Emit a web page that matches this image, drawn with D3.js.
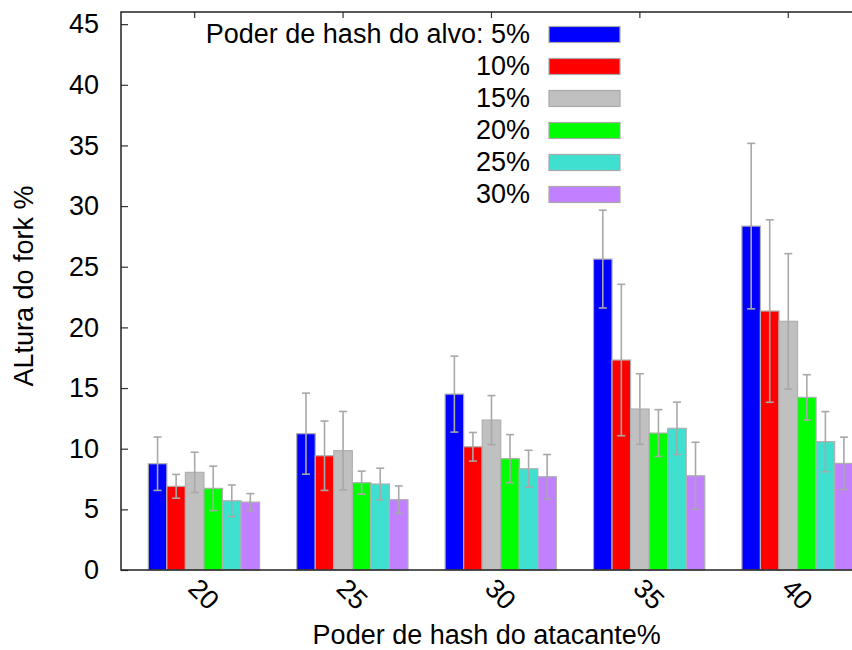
<!DOCTYPE html>
<meta charset="utf-8">
<script src="https://d3js.org/d3.v7.min.js"></script>
<style>
  body { margin: 0; background: white; }
  svg text { font-family: "Liberation Sans", Arial, sans-serif; font-size: 27px; fill: black; }
</style>
<div id="chart"></div>
<script>

// attacker hash power (groups) and target hash power (series)
var groups = ["20", "25", "30", "35", "40"];
var series = ["5%", "10%", "15%", "20%", "25%", "30%"];
var legendLabels = ["Poder de hash do alvo: 5%", "10%", "15%", "20%", "25%", "30%"];
var colors = ["#0000ff", "#ff0000", "#c0c0c0", "#00ff00", "#40e0d0", "#c080ff"];

// fork height % per series, one value per group
var s5  = [8.76, 11.24, 14.5, 25.63, 28.35];
var s10 = [6.9, 9.42, 10.16, 17.31, 21.35];
var s15 = [8.05, 9.84, 12.36, 13.27, 20.5];
var s20 = [6.73, 7.2, 9.18, 11.29, 14.23];
var s25 = [5.71, 7.09, 8.35, 11.68, 10.58];
var s30 = [5.6, 5.8, 7.69, 7.77, 8.79];

// error bar half widths
var e5  = [2.2, 3.34, 3.13, 4.03, 6.82];
var e10 = [0.98, 2.86, 1.18, 6.24, 7.52];
var e15 = [1.66, 3.23, 2.02, 2.91, 5.58];
var e20 = [1.83, 0.95, 1.98, 1.93, 1.87];
var e25 = [1.3, 1.3, 1.52, 2.16, 2.48];
var e30 = [0.7, 1.13, 1.83, 2.76, 2.16];

var yTicks = [0, 5, 10, 15, 20, 25, 30, 35, 40, 45];

var values = [s5, s10, s15, s20, s25, s30];
var errors = [e5, e10, e15, e20, e25, e30];

var data = [];
groups.forEach(function(g, gi) {
  series.forEach(function(s, si) {
    data.push({group: g, series: s, value: values[si][gi], err: errors[si][gi], color: colors[si]});
  });
});

// plot frame (right edge runs past the picture, as in the original)
var width = 852, height = 650;
var plotLeft = 121, plotTop = 12, plotBottom = 570, plotRight = 880.5;

var svg = d3.select("#chart")
  .append("svg")
    .attr("width", width)
    .attr("height", height);

var x = d3.scaleBand()
  .domain(groups)
  .range([plotLeft, plotRight])
  .paddingInner(0.25)
  .paddingOuter(0.184);

var xInner = d3.scaleBand()
  .domain(series)
  .range([0, x.bandwidth()]);

var y = d3.scaleLinear()
  .domain([0, 46])
  .range([plotBottom, plotTop]);

// y axis, ticks point inwards
svg.append("g")
  .attr("transform", "translate(" + plotLeft + ",0)")
  .call(d3.axisLeft(y).tickValues(yTicks).tickSize(-7).tickPadding(22))
  .call(function(g) { g.select(".domain").remove(); })
  .call(function(g) { g.selectAll("line").attr("stroke", "#333").attr("stroke-width", 1.2); })
  .call(function(g) { g.selectAll("text").attr("font-size", null); });

// top ticks
svg.append("g")
  .attr("transform", "translate(" + (-xInner.bandwidth() / 2) + "," + plotTop + ")")
  .call(d3.axisTop(x).tickSize(-6).tickFormat(""))
  .call(function(g) { g.select(".domain").remove(); })
  .call(function(g) { g.selectAll("line").attr("stroke", "#333").attr("stroke-width", 1.2); });

// bars
svg.append("g")
  .selectAll("rect")
  .data(data)
  .enter()
  .append("rect")
    .attr("x", function(d) { return x(d.group) + xInner(d.series); })
    .attr("y", function(d) { return y(d.value); })
    .attr("width", xInner.bandwidth())
    .attr("height", function(d) { return y(0) - y(d.value); })
    .attr("fill", function(d) { return d.color; })
    .attr("stroke", "#b0b0b0")
    .attr("stroke-width", 1.2);

// error bars
var eb = svg.append("g")
  .attr("stroke", "#a8a8a8")
  .attr("stroke-width", 1.6)
  .selectAll("g")
  .data(data)
  .enter()
  .append("g")
    .attr("transform", function(d) { return "translate(" + (x(d.group) + xInner(d.series) + xInner.bandwidth() / 2) + ",0)"; });

eb.append("line")
  .attr("y1", function(d) { return y(d.value + d.err); })
  .attr("y2", function(d) { return y(d.value - d.err); });
eb.append("line")
  .attr("x1", -4).attr("x2", 4)
  .attr("y1", function(d) { return y(d.value + d.err); })
  .attr("y2", function(d) { return y(d.value + d.err); });
eb.append("line")
  .attr("x1", -4).attr("x2", 4)
  .attr("y1", function(d) { return y(d.value - d.err); })
  .attr("y2", function(d) { return y(d.value - d.err); });

// frame
svg.append("rect")
  .attr("x", plotLeft)
  .attr("y", plotTop)
  .attr("width", plotRight - plotLeft)
  .attr("height", plotBottom - plotTop)
  .attr("fill", "none")
  .attr("stroke", "#222")
  .attr("stroke-width", 1.5);

// x labels, rotated
svg.append("g")
  .attr("transform", "translate(0," + plotBottom + ")")
  .call(d3.axisBottom(x).tickSize(0))
  .call(function(g) { g.select(".domain").remove(); })
  .call(function(g) {
    g.selectAll("text")
      .attr("font-size", null)
      .attr("y", 0)
      .attr("dy", "0.35em")
      .attr("text-anchor", "middle")
      .attr("transform", "translate(0,24) rotate(45)");
  });

// axis titles
svg.append("text")
  .attr("x", (plotLeft + plotRight) / 2 - 14)
  .attr("y", 644)
  .attr("text-anchor", "middle")
  .text("Poder de hash do atacante%");

svg.append("text")
  .attr("transform", "translate(33,286) rotate(-90)")
  .attr("text-anchor", "middle")
  .text("ALtura do fork %");

// legend
var legend = svg.append("g")
  .selectAll("g")
  .data(legendLabels)
  .enter()
  .append("g")
    .attr("transform", function(d, i) { return "translate(0," + (42.5 + i * 32) + ")"; });

legend.append("text")
  .attr("x", 530)
  .attr("text-anchor", "end")
  .text(function(d) { return d; });

legend.append("rect")
  .attr("x", 549)
  .attr("y", -16)
  .attr("width", 71)
  .attr("height", 16)
  .attr("fill", function(d, i) { return colors[i]; })
  .attr("stroke", "#a8a8a8")
  .attr("stroke-width", 1.2);

</script>
